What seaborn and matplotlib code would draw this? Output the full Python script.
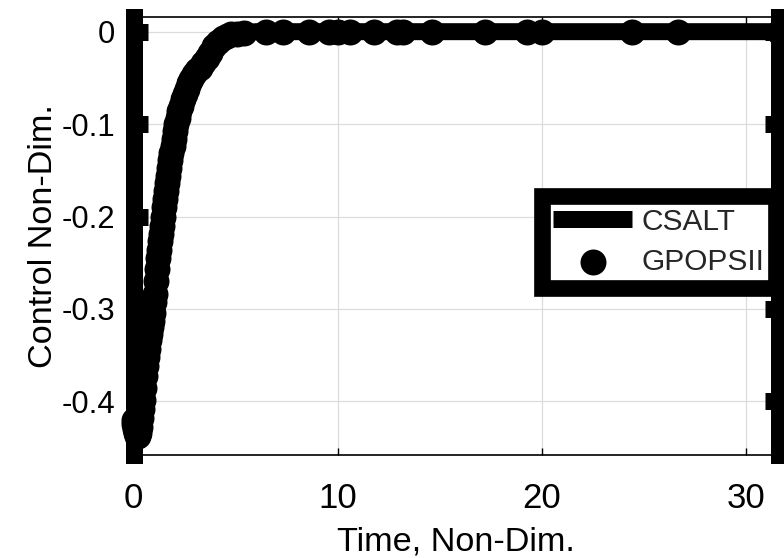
import numpy as np
import pandas as pd
import matplotlib
matplotlib.use("Agg")
import matplotlib.pyplot as plt
import seaborn as sns

# ---- data ----
csalt_t = [0.0, 0.1, 0.2, 0.3, 0.45, 0.6, 0.8, 0.9, 1.05, 1.18, 1.38, 1.57, 1.79,
           2.0, 2.2, 2.4, 2.7, 3.0, 3.3, 3.6, 3.85, 4.24, 4.6, 5.0, 5.5, 6.0, 8.0,
           12.0, 16.0, 20.0, 24.0, 28.0, 31.6]
csalt_u = [-0.420, -0.432, -0.437, -0.430, -0.400, -0.363, -0.328, -0.315, -0.287,
           -0.252, -0.215, -0.179, -0.142, -0.110, -0.090, -0.074, -0.057, -0.045,
           -0.038, -0.028, -0.020, -0.009, -0.005, -0.003, -0.001, 0.0, 0.0,
           0.0, 0.0, 0.0, 0.0, 0.0, 0.0]

gpops_t = [0.0, 0.03, 0.07, 0.11, 0.16, 0.21, 0.26, 0.31, 0.36, 0.41, 0.46, 0.51,
           0.56, 0.61, 0.66, 0.71, 0.76, 0.81, 0.86, 0.91, 0.96, 1.01, 1.06, 1.11,
           1.16, 1.21, 1.26, 1.31, 1.36, 1.41, 1.46, 1.51, 1.56, 1.61, 1.66, 1.71,
           1.76, 1.81, 1.86, 1.91, 1.96, 2.02, 2.09, 2.16, 2.24, 2.32, 2.41, 2.5,
           2.6, 2.71, 2.83, 2.96, 3.1, 3.25, 3.41, 3.58, 3.76, 3.95, 4.15, 4.36,
           4.58, 4.8, 5.05, 5.4, 6.5, 7.3, 8.6, 9.6, 10.0, 10.6, 11.8, 12.9, 13.2,
           14.6, 17.2, 19.3, 20.0, 24.4, 26.7, 31.6]
gpops_u = [-0.420, -0.425, -0.430, -0.434, -0.437, -0.437, -0.434, -0.428, -0.418,
           -0.408, -0.398, -0.386, -0.373, -0.362, -0.352, -0.343, -0.334, -0.327,
           -0.320, -0.313, -0.304, -0.293, -0.284, -0.270, -0.257, -0.245, -0.236,
           -0.227, -0.219, -0.210, -0.200, -0.190, -0.181, -0.172, -0.164, -0.156,
           -0.147, -0.139, -0.131, -0.124, -0.116, -0.108, -0.100, -0.093, -0.086,
           -0.080, -0.073, -0.067, -0.062, -0.056, -0.051, -0.046, -0.042, -0.039,
           -0.034, -0.029, -0.023, -0.016, -0.011, -0.007, -0.005, -0.003, -0.002,
           -0.001, 0.0, 0.0, 0.0, 0.0, 0.0, 0.0, 0.0, 0.0, 0.0, 0.0, 0.0, 0.0,
           0.0, 0.0, 0.0, 0.0]

series_names = ["CSALT", "GPOPSII"]
x_ticks = [0, 10, 20, 30]
x_tick_labels = ["0", "10", "20", "30"]
y_ticks = [0, -0.1, -0.2, -0.3, -0.4]
y_tick_labels = ["0", "-0.1", "-0.2", "-0.3", "-0.4"]
x_label = "Time, Non-Dim."
y_label = "Control Non-Dim."

# ---- style ----
sns.set_style("white")
plt.rcParams["font.family"] = ["Liberation Sans", "DejaVu Sans"]

fig = plt.figure(figsize=(7.84, 5.58), dpi=100)
ax = fig.add_axes([0.1703, 0.18459, 0.8227, 0.78548])

csalt_df = pd.DataFrame({"t": csalt_t, "u": csalt_u})
gpops_df = pd.DataFrame({"t": gpops_t, "u": gpops_u})

sns.lineplot(data=csalt_df, x="t", y="u", ax=ax, color="black", linewidth=12.24,
             label=series_names[0], estimator=None, sort=False, zorder=2,
             solid_capstyle="butt", solid_joinstyle="round")
sns.scatterplot(data=gpops_df, x="t", y="u", ax=ax, color="black", s=350,
                marker="o", edgecolor="black", linewidth=0,
                label=series_names[1], zorder=3, clip_on=False)

ax.set_xlim(0, 31.6)
ax.set_ylim(-0.458, 0.0162)
ax.set_xticks(x_ticks)
ax.set_xticklabels(x_tick_labels)
ax.set_yticks(y_ticks)
ax.set_yticklabels(y_tick_labels)

ax.grid(True, color="#dcdcdc", linewidth=0.9)
ax.set_axisbelow(True)

for s in ["left", "right"]:
    ax.spines[s].set_linewidth(12.24)
    ax.spines[s].set_color("black")
    ax.spines[s].set_visible(True)
for s in ["top", "bottom"]:
    ax.spines[s].set_linewidth(1.2)
    ax.spines[s].set_color("black")
    ax.spines[s].set_visible(True)

ax.tick_params(axis="y", left=True, right=True, direction="in", length=10.4,
               width=12.24, color="black", labelsize=22.3, pad=13.5,
               labelcolor="black")
ax.tick_params(axis="x", bottom=True, top=True, direction="in", length=5,
               width=1.0, color="black", labelsize=25, pad=19.4,
               labelcolor="black")

ax.set_xlabel(x_label, fontsize=24.7, color="black")
ax.set_ylabel(y_label, fontsize=24.7, color="black")
ax.xaxis.set_label_coords(0.5, -0.162)
ax.yaxis.set_label_coords(-0.1155, 0.5)

leg = ax.legend(loc="upper left", bbox_to_anchor=(541.5 / 784, 1 - 196 / 558),
                bbox_transform=fig.transFigure, fontsize=21.5, frameon=True,
                fancybox=False, framealpha=1, edgecolor="black",
                borderpad=0.4, handlelength=2.64, handletextpad=0.3,
                labelspacing=0.4, borderaxespad=0, markerscale=1)
leg.get_frame().set_linewidth(12.0)
leg.set_zorder(5)

fig.savefig("out.png", dpi=100)
